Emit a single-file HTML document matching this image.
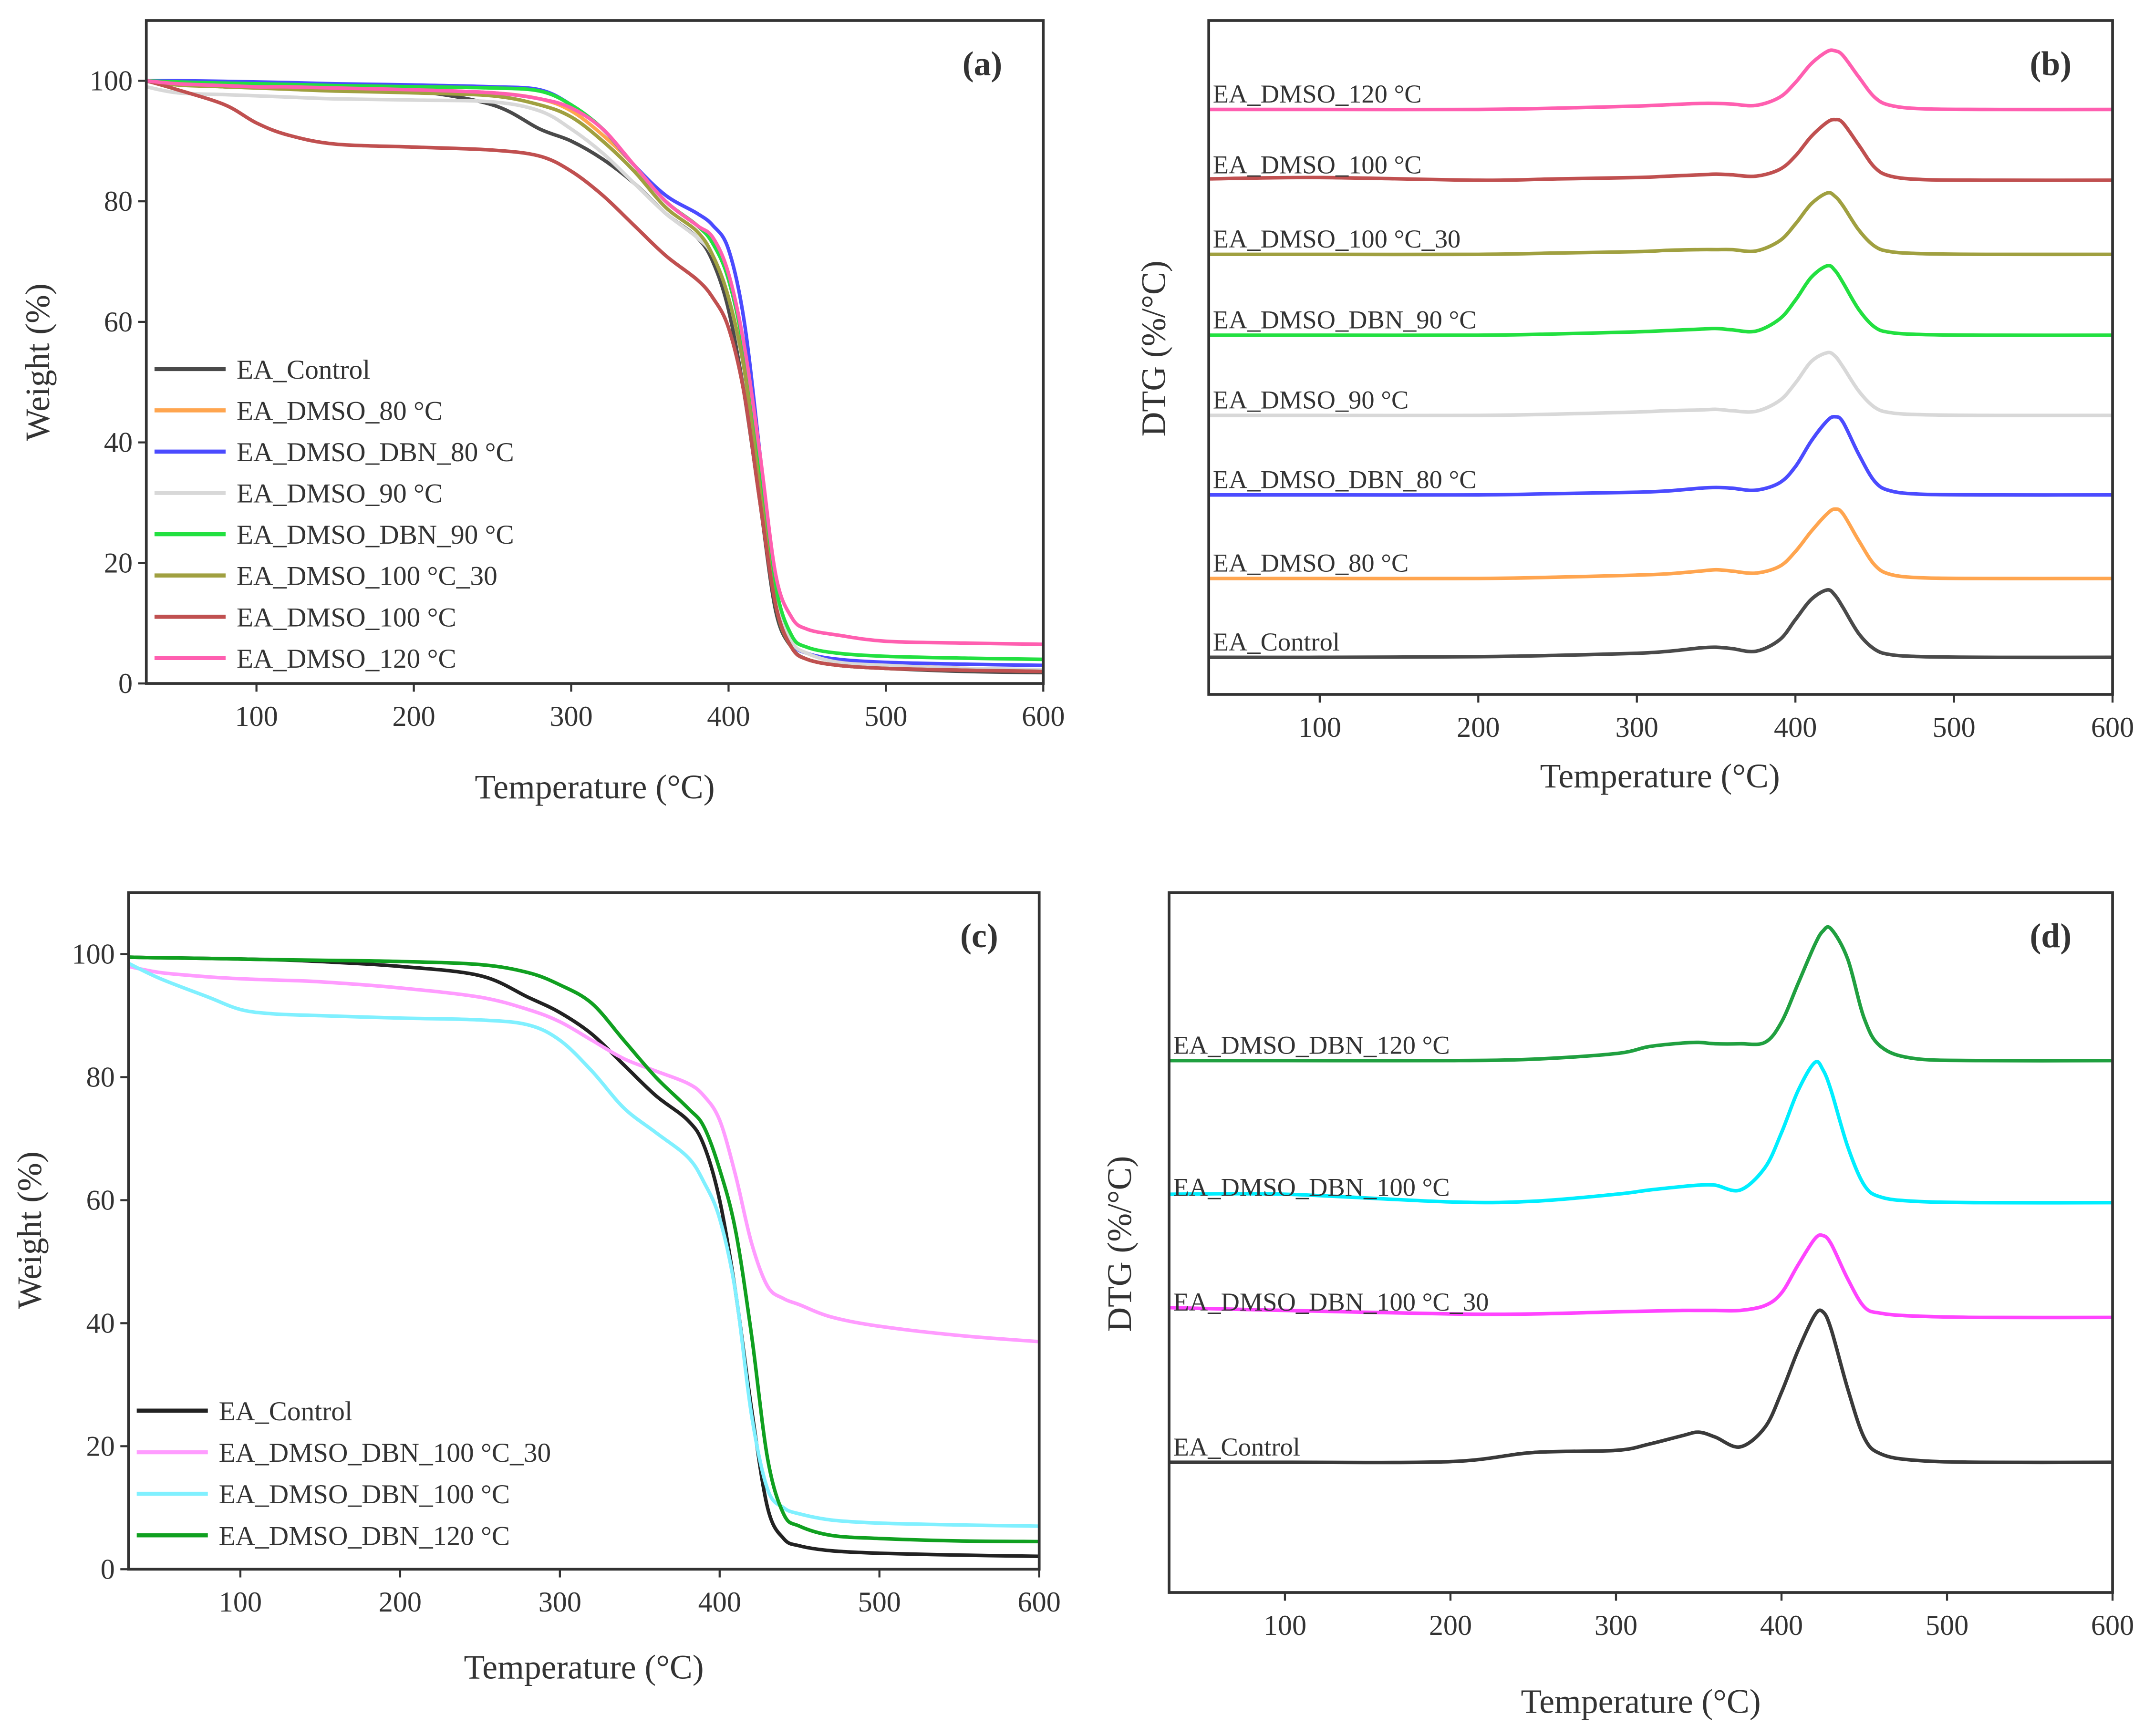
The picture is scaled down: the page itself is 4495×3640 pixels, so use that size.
<!DOCTYPE html>
<html><head><meta charset="utf-8"><style>
html,body{margin:0;padding:0;background:#fff}
svg{display:block}
text{font-family:"Liberation Serif",serif;fill:#333}
</style></head><body>
<svg id="fig" width="4495" height="3640" viewBox="0 0 1568 1270" preserveAspectRatio="none" xmlns="http://www.w3.org/2000/svg"></svg>
<script>
// ---------- DATA ----------
const tgaTemps = [30,50,80,100,120,150,200,250,280,300,320,340,360,380,390,400,410,420,430,440,450,470,500,550,600];
const tgaA_names = ["EA_Control","EA_DMSO_80 °C","EA_DMSO_DBN_80 °C","EA_DMSO_90 °C","EA_DMSO_DBN_90 °C","EA_DMSO_100 °C_30","EA_DMSO_100 °C","EA_DMSO_120 °C"];
const tgaA_colors = ["#4a4a4a","#ffa54f","#4b4bff","#d8d8d8","#22e040","#a0a040","#c05050","#ff5fb0"];
const tgaControl = [100,99.5,99,99,98.8,98.6,98.3,96,92,90,87,83,78,74,70,62,48,30,12,6,4,3,2.5,2,1.8];
const tgaDmso80 = [100,99.5,99.2,99,99,98.8,98.5,98,97,95,91,86,80,76,73,67,55,35,15,7,5,3.5,3,2.5,2.2];
const tgaDbn80 = [100,100,99.9,99.8,99.7,99.5,99.3,99,98.5,96,92,86,81,78,76,72,60,38,15,7,5,4,3.5,3.2,3];
const tgaDmso90 = [99,98,97.7,97.5,97.3,97,96.8,96.5,95,92,88,83,78,74,71,64,52,33,14,7,5,3.5,3,2.5,2.3];
const tgaDbn90 = [100,99.8,99.6,99.5,99.4,99.2,99,98.8,98.3,96,92,86,80,76,73,67,55,35,16,8,6,5,4.5,4.2,4];
const tgaDmso100_30 = [100,99.3,99,98.8,98.6,98.3,98,97.5,96,94,90,85,79,75,71,64,52,32,13,6,4,3,2.5,2.2,2];
const tgaDmso100 = [100,98.5,96,93,91,89.5,89,88.5,87.5,85,81,76,71,67,64,59,48,30,13,6,4,3,2.5,2.2,2];
const tgaDmso120 = [100,99.5,99.2,99,99,98.8,98.5,98,97,95.5,92,86,80,76,74,68,56,38,18,11,9,8,7,6.7,6.5];

const tgaC_names = ["EA_Control","EA_DMSO_DBN_100 °C_30","EA_DMSO_DBN_100 °C","EA_DMSO_DBN_120 °C"];
const tgaC_colors = ["#222222","#ff9cff","#80f0ff","#10a020"];
const tgaCControl = [99.5,99.4,99.3,99.2,99.1,98.8,98,96.5,93,90.5,87,82,77,73,69,60,45,26,10,5,3.8,3,2.6,2.3,2.1];
const tgaDbn100_30 = [98,97,96.3,96,95.8,95.5,94.5,93,91,89,86,83,81,79,77,73,64,53,46,44,43,41,39.5,38,37];
const tgaDbn100 = [98.5,96,93,91,90.3,90,89.6,89.3,88.5,86,81,75,71,67,63,57,45,25,13,10,9,8,7.5,7.2,7];
const tgaDbn120 = [99.5,99.4,99.3,99.2,99.1,99,98.8,98.3,97,95,92,86,80,75,72,65,55,38,18,9,7,5.5,5,4.6,4.5];

const dtgTemps = [30,100,200,250,300,320,340,350,360,375,390,400,410,420,425,430,440,450,460,480,520,600];
const dtgB_names = ["EA_DMSO_120 °C","EA_DMSO_100 °C","EA_DMSO_100 °C_30","EA_DMSO_DBN_90 °C","EA_DMSO_90 °C","EA_DMSO_DBN_80 °C","EA_DMSO_80 °C","EA_Control"];
const dtgB_colors = ["#ff5fb0","#c05050","#a0a040","#22e040","#d8d8d8","#4b4bff","#ffa54f","#4a4a4a"];
const dtgB_baselines = [86.8,76.3,65.3,53.3,41.4,29.6,17.2,5.5];
const dtgB120 = [0,0,0,0.2,0.5,0.7,0.9,0.9,0.8,0.6,1.8,4,6.8,8.6,8.7,8,4.8,1.8,0.6,0.1,0,0];
const dtgB100 = [0.2,0.4,0,0.2,0.4,0.6,0.8,0.9,0.8,0.6,1.6,3.6,6.5,8.6,9,8.5,5.2,1.9,0.6,0.1,0,0];
const dtgB100_30 = [0,0,0,0.2,0.4,0.6,0.7,0.7,0.7,0.5,2,4.5,7.5,9.1,8.6,7.2,3.6,1.2,0.4,0.1,0,0];
const dtgBdbn90 = [0,0,0,0.2,0.5,0.7,0.9,1,0.8,0.6,2.4,5.2,8.6,10.3,9.6,7.8,3.8,1.2,0.4,0.1,0,0];
const dtgB90 = [0,0,0,0.2,0.5,0.7,0.8,0.9,0.7,0.6,2.2,4.8,8,9.3,8.8,7.2,3.6,1.2,0.4,0.1,0,0];
const dtgBdbn80 = [0,0,0,0.2,0.4,0.6,1,1.1,1,0.7,1.8,4.2,8,11,11.6,10.8,6,2,0.6,0.1,0,0];
const dtgB80 = [0,0,0,0.2,0.5,0.7,1.1,1.3,1.1,0.8,1.8,4,7,9.6,10.3,9.6,5.6,2,0.6,0.1,0,0];
const dtgBcontrol = [0,0,0.1,0.3,0.6,0.9,1.4,1.5,1.3,0.9,2.6,5.6,8.6,10,9.2,7.4,3.5,1.2,0.4,0.1,0,0];

const dtgD_names = ["EA_DMSO_DBN_120 °C","EA_DMSO_DBN_100 °C","EA_DMSO_DBN_100 °C_30","EA_Control"];
const dtgD_colors = ["#20a040","#00eeff","#ff44ff","#3a3a3a"];
const dtgD_baselines = [76,55.7,39.3,18.6];
const dtgD120 = [0,0,0,0.2,1,2,2.5,2.6,2.4,2.4,2.6,5.5,11,16.5,18.5,18.8,14.5,6,2,0.3,0,0];
const dtgDdbn100 = [1.2,1.2,0.1,0.2,1.2,1.8,2.3,2.5,2.5,1.8,5,10,16,20,19,16,8,2.5,0.8,0.2,0,0];
const dtgDdbn100_30 = [1.4,1,0.5,0.5,0.8,0.9,1,1,1,1,1.7,3.5,7.5,11.2,11.7,10.5,5.5,1.5,0.6,0.2,0,0];
const dtgDcontrol = [0,0,0.1,1.4,1.7,2.6,3.8,4.3,3.6,2.2,5,10,16,21,21.5,19,10.5,3.5,1.2,0.3,0,0];

const xTicks = [100,200,300,400,500,600];
const yTicksTGA = [0,20,40,60,80,100];

// ---------- DRAW ----------
const NS = "http://www.w3.org/2000/svg";
const svg = document.getElementById("fig");
function mk(tag, attrs, parent){const e=document.createElementNS(NS,tag);for(const k in attrs)e.setAttribute(k,attrs[k]);(parent||svg).appendChild(e);return e;}
function scale(d0,d1,r0,r1){return v=>r0+(v-d0)/(d1-d0)*(r1-r0);}
function spline(pts){
  let d="M"+pts[0][0].toFixed(2)+","+pts[0][1].toFixed(2);
  for(let i=0;i<pts.length-1;i++){
    const p0=pts[Math.max(0,i-1)],p1=pts[i],p2=pts[i+1],p3=pts[Math.min(pts.length-1,i+2)];
    const c1x=p1[0]+(p2[0]-p0[0])/6,c1y=p1[1]+(p2[1]-p0[1])/6;
    const c2x=p2[0]-(p3[0]-p1[0])/6,c2y=p2[1]-(p3[1]-p1[1])/6;
    d+=" C"+c1x.toFixed(2)+","+c1y.toFixed(2)+" "+c2x.toFixed(2)+","+c2y.toFixed(2)+" "+p2[0].toFixed(2)+","+p2[1].toFixed(2);
  }
  return d;
}
function panel(p){
  const g=mk("g",{});
  
  
  const x=scale(30,600,p.x0,p.x1), y=scale(p.ymin,p.ymax,p.yb,p.yt);
  p.x=x;p.y=y;
  xTicks.forEach(t=>{
    const tk=mk("line",{x1:x(t),x2:x(t),y1:p.yb,y2:p.yb+6,stroke:"#333","stroke-width":1.5},g);
    
    
    const tl=mk("text",{x:x(t),y:p.yb+31,"text-anchor":"middle","font-size":21},g);
    tl.textContent=t;
    
    
  });
  if(p.yticks){p.yticks.forEach(t=>{
    const tk=mk("line",{x1:p.x0-6,x2:p.x0,y1:y(t),y2:y(t),stroke:"#333","stroke-width":1.5},g);
    
    
    const tl=mk("text",{x:p.x0-10,y:y(t)+7,"text-anchor":"end","font-size":21},g);
    tl.textContent=t;
    
    
  });}
  p.series.forEach((s,i)=>{
    const pts=s.vals.map((v,j)=>[x(p.temps[j]),y(v+(s.base||0))]);
    const path=mk("path",{d:spline(pts),fill:"none",stroke:s.color,"stroke-width":2.6,"stroke-linejoin":"round"},g);
    
    
    if(p.inlineLabels){
      const lt=mk("text",{x:p.x0+3,y:y(s.base)-5,"font-size":19,fill:"#444"},g);
      lt.textContent=s.name;
      
      
    }
  });
  const fr=mk("rect",{x:p.x0,y:p.yt,width:p.x1-p.x0,height:p.yb-p.yt,fill:"none",stroke:"#333","stroke-width":2},g);
  
  
  const pl=mk("text",{x:p.x1-30,y:p.yt+40,"text-anchor":"end","font-size":25,"font-weight":"bold",fill:"#111"},g);
  pl.textContent=p.label;
  
  
  const xt=mk("text",{x:p.xtx,y:p.xty,"text-anchor":"middle","font-size":25},g);
  xt.textContent="Temperature (°C)";
  
  
  const yt=mk("text",{x:0,y:0,"text-anchor":"middle","font-size":25,transform:"translate("+p.ytx+","+p.yty+") rotate(-90)"},g);
  yt.textContent=p.ytitle;
  
  
  if(p.legend){
    p.series.forEach((s,i)=>{
      const ly=p.legend.y+i*p.legend.dy;
      const ll=mk("line",{x1:p.legend.x,x2:p.legend.x+52,y1:ly,y2:ly,stroke:s.color,"stroke-width":3},g);
      
      
      const lt=mk("text",{x:p.legend.x+60,y:ly+7,"font-size":20},g);
      lt.textContent=s.name;
      
      
    });
  }
}
const aVals=[tgaControl,tgaDmso80,tgaDbn80,tgaDmso90,tgaDbn90,tgaDmso100_30,tgaDmso100,tgaDmso120];
const cVals=[tgaCControl,tgaDbn100_30,tgaDbn100,tgaDbn120];
const bVals=[dtgB120,dtgB100,dtgB100_30,dtgBdbn90,dtgB90,dtgBdbn80,dtgB80,dtgBcontrol];
const dVals=[dtgD120,dtgDdbn100,dtgDdbn100_30,dtgDcontrol];
panel({id:"a",label:"(a)",x0:107,x1:763,yb:500,yt:15,ymin:0,ymax:110,temps:tgaTemps,yticks:yTicksTGA,
  series:aVals.map((v,i)=>({vals:v,color:tgaA_colors[i],name:tgaA_names[i]})),
  legend:{x:113,y:270,dy:30.2},xtx:435,xty:584,ytx:36,yty:265,ytitle:"Weight (%)"});
panel({id:"c",label:"(c)",x0:94,x1:760,yb:1148,yt:653,ymin:0,ymax:110,temps:tgaTemps,yticks:yTicksTGA,
  series:cVals.map((v,i)=>({vals:v,color:tgaC_colors[i],name:tgaC_names[i]})),
  legend:{x:100,y:1032,dy:30.4},xtx:427,xty:1228,ytx:30,yty:900,ytitle:"Weight (%)"});
panel({id:"b",label:"(b)",x0:884,x1:1545,yb:508,yt:15,ymin:0,ymax:100,temps:dtgTemps,inlineLabels:true,
  series:bVals.map((v,i)=>({vals:v,base:dtgB_baselines[i],color:dtgB_colors[i],name:dtgB_names[i]})),
  xtx:1214,xty:576,ytx:852,yty:255,ytitle:"DTG (%/°C)"});
panel({id:"d",label:"(d)",x0:855,x1:1545,yb:1165,yt:653,ymin:0,ymax:100,temps:dtgTemps,inlineLabels:true,
  series:dVals.map((v,i)=>({vals:v,base:dtgD_baselines[i],color:dtgD_colors[i],name:dtgD_names[i]})),
  xtx:1200,xty:1253,ytx:827,yty:910,ytitle:"DTG (%/°C)"});
</script>
</body></html>
